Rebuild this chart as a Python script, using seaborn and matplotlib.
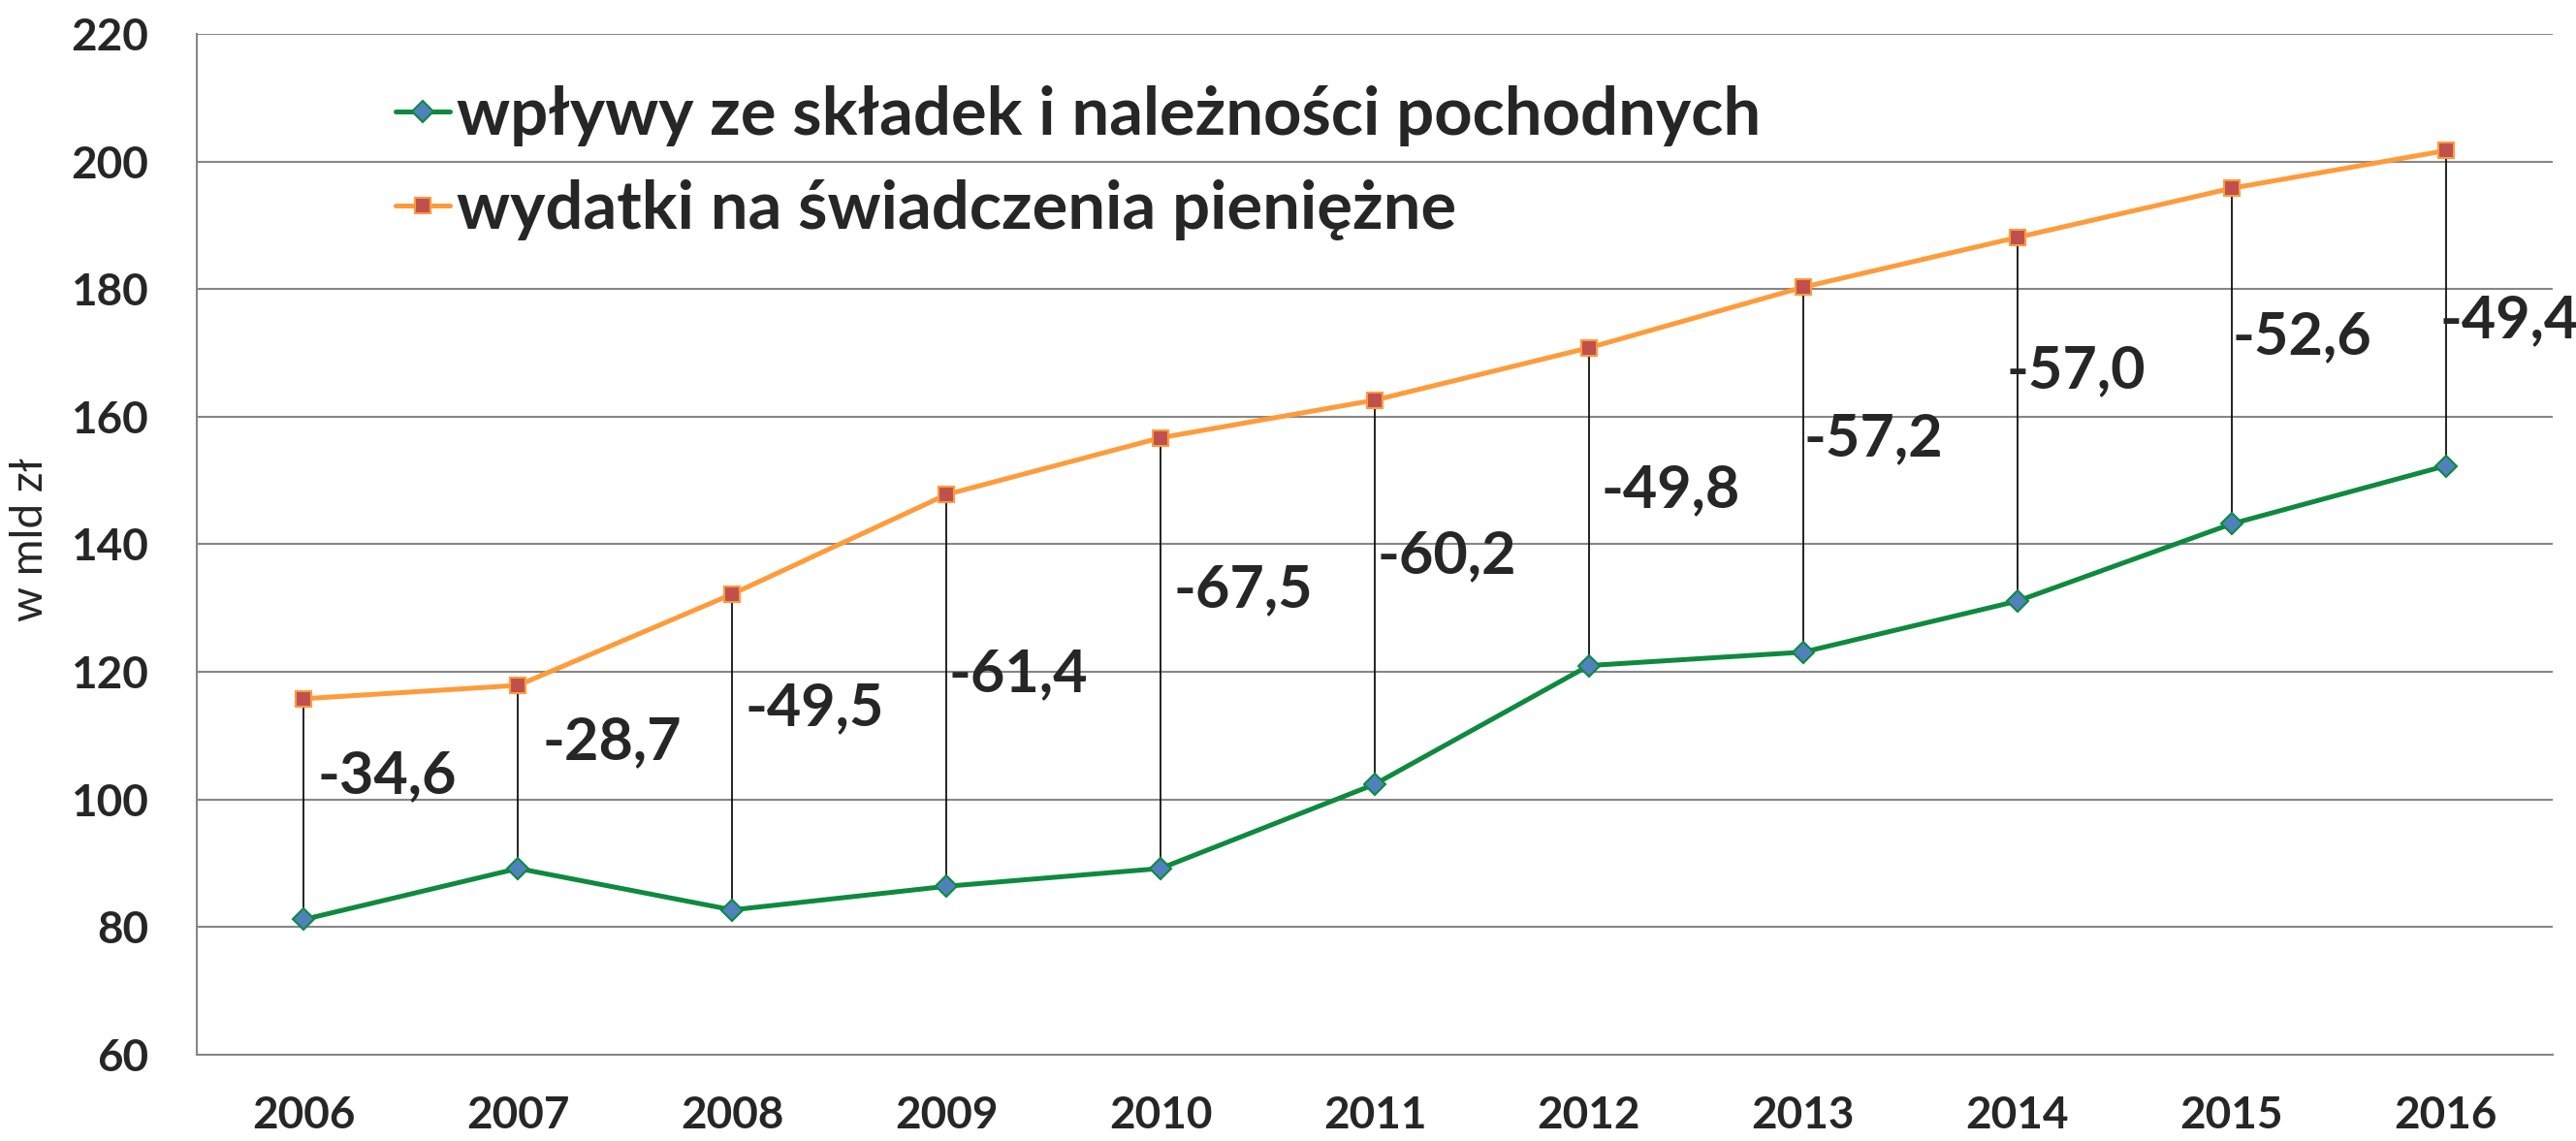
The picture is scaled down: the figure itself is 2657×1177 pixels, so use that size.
import numpy as np
import pandas as pd
import matplotlib.pyplot as plt
from matplotlib.ticker import FixedLocator
import seaborn as sns

sns.set_style("white")
plt.rcParams['font.family'] = ['Lato', 'DejaVu Sans']

years = [2006, 2007, 2008, 2009, 2010, 2011, 2012, 2013, 2014, 2015, 2016]

# w mld zl
wplywy = [81.2, 89.2, 82.7, 86.4, 89.2, 102.4, 121.0, 123.1, 131.1, 143.2, 152.3]
wydatki = [115.8, 117.9, 132.2, 147.8, 156.7, 162.6, 170.8, 180.3, 188.1, 195.8, 201.7]
roznica = [-34.6, -28.7, -49.5, -61.4, -67.5, -60.2, -49.8, -57.2, -57.0, -52.6, -49.4]

name_in = "wpływy ze składek i należności pochodnych"
name_out = "wydatki na świadczenia pieniężne"

# where the difference labels sit (y in data units, x shift in pixels)
label_y = [103.8, 109.1, 114.4, 119.7, 132.9, 138.2, 148.6, 156.6, 167.2, 172.6, 175.2]
label_dx = [14, 25, 13, 2, 13, 2, 13, 1, -11, 1, -6]

df = pd.DataFrame({"rok": years, "wplywy": wplywy, "wydatki": wydatki})

fig = plt.figure(figsize=(26.57, 11.77), dpi=100)
ax = fig.add_axes([0.0764, 0.0756, 0.9146, 0.8947])

# lines between the two series
ax.vlines(df["rok"], df["wplywy"], df["wydatki"], color="#111111", lw=1.3, zorder=3)

sns.lineplot(data=df, x="rok", y="wplywy", ax=ax, color="#0E8A3F", lw=3.6,
             marker="D", ms=11, markerfacecolor="#4F81BD", markeredgecolor="#0E8A3F",
             markeredgewidth=1.5, label=name_in, zorder=4)
sns.lineplot(data=df, x="rok", y="wydatki", ax=ax, color="#FF9B3A", lw=3.6,
             marker="s", ms=12, markerfacecolor="#C0504D", markeredgecolor="#FF9B3A",
             markeredgewidth=1.5, label=name_out, zorder=4)

for yr, d, ly, dx in zip(years, roznica, label_y, label_dx):
    txt = f"{d:.1f}".replace(".", ",")
    ax.annotate(txt, xy=(yr, ly), xytext=(dx * 0.72, 0), textcoords="offset points",
                ha="left", va="center", fontsize=44, fontweight="bold", zorder=5)

ax.set_xlim(years[0] - 0.5, years[-1] + 0.5)
ax.set_ylim(60, 220)
ax.set_yticks(np.arange(60, 221, 20))
ax.set_xticks(years)
ax.xaxis.set_minor_locator(FixedLocator(np.arange(years[0] - 0.5, years[-1] + 1, 1)))
ax.tick_params(axis="x", which="major", length=0, pad=30, labelsize=33)
ax.tick_params(axis="x", which="minor", length=17, width=1.5, color="#868686", direction="out")
ax.tick_params(axis="y", length=0, pad=36, labelsize=33)
for lab in ax.get_xticklabels() + ax.get_yticklabels():
    lab.set_fontweight("bold")

ax.yaxis.grid(True, color="#868686", lw=1.5)
ax.set_axisbelow(True)
for s in ["top", "right"]:
    ax.spines[s].set_visible(False)
for s in ["left", "bottom"]:
    ax.spines[s].set_color("#868686")
    ax.spines[s].set_linewidth(1.5)

ax.set_xlabel("")
ax.set_ylabel("w mld zł", fontsize=33)
ax.yaxis.set_label_coords(-0.062, 0.505)

ax.legend(loc="upper left", bbox_to_anchor=(0.1303, 0.978), bbox_transform=fig.transFigure,
          frameon=False, handlelength=0.81, handletextpad=0.1,
          labelspacing=0.5, prop={"weight": "bold", "size": 49.5})

fig.savefig("out.png", dpi=100)
